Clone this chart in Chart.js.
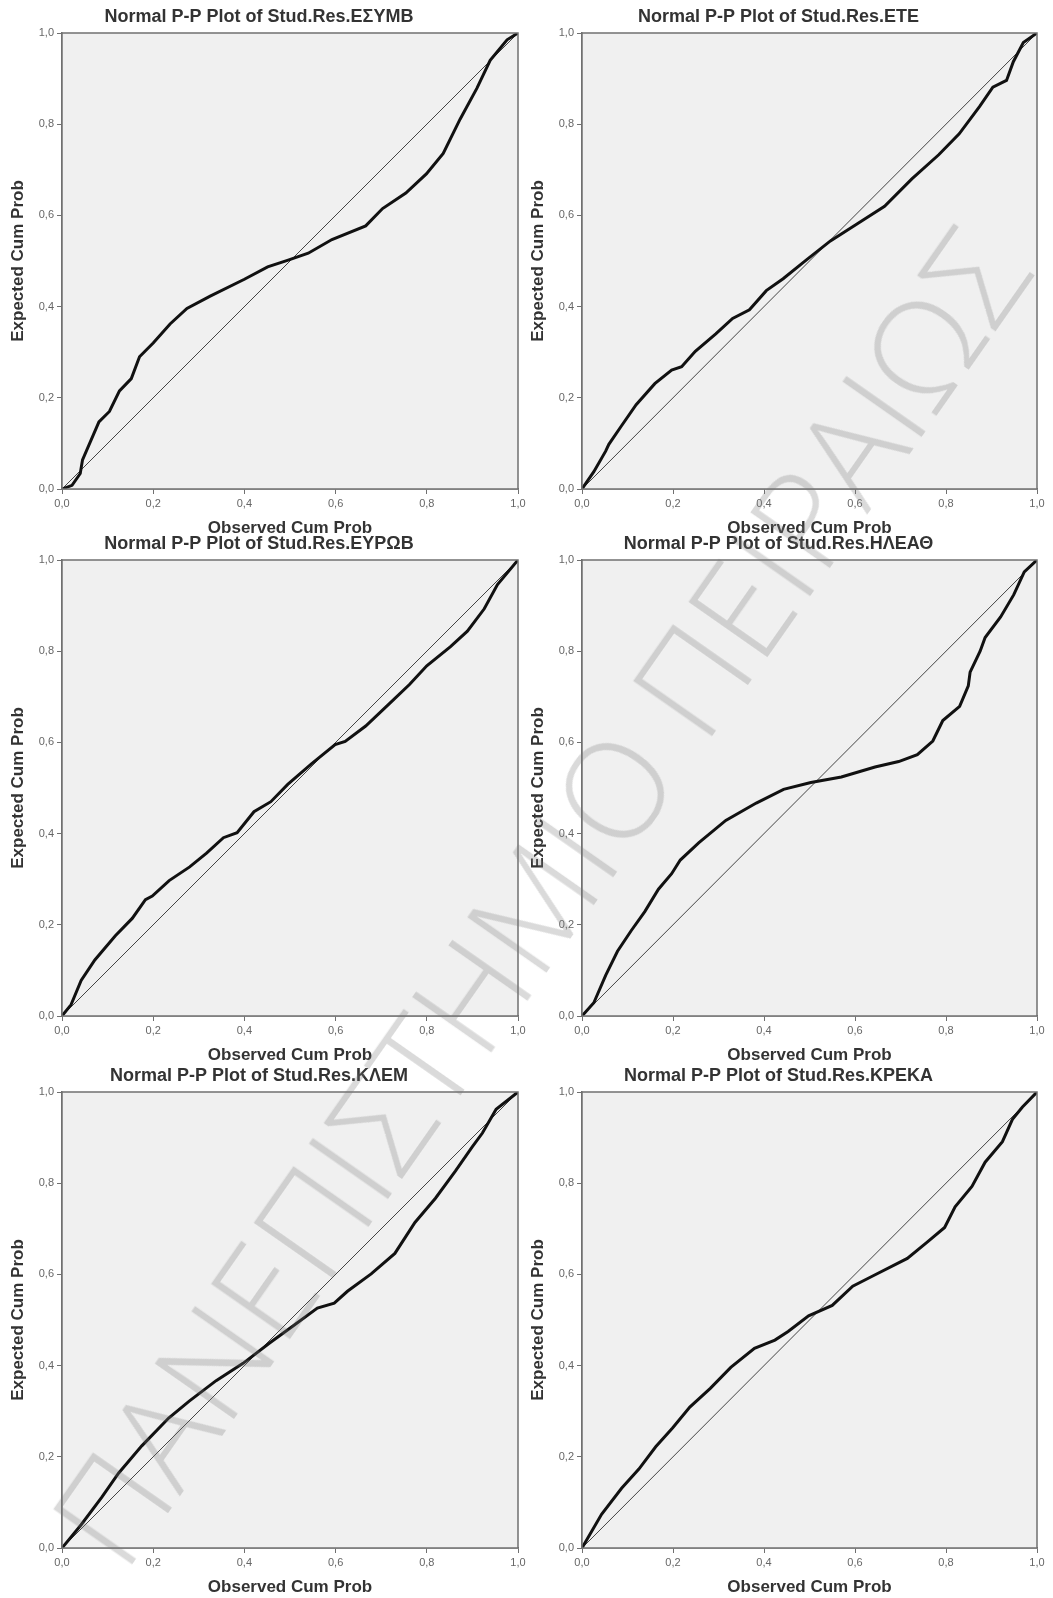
<!DOCTYPE html>
<html>
<head>
<meta charset="utf-8">
<script src="https://cdn.jsdelivr.net/npm/chart.js@4/dist/chart.umd.min.js"></script>
<style>
  html, body { margin: 0; padding: 0; background: #fff; }
  #page { position: relative; width: 1053px; height: 1598px; overflow: hidden; }
  .panel { position: absolute; }
  .panel canvas { display: block; }
  #watermark {
    position: absolute; left: 538px; top: 895px;
    transform: translate(-50%, -50%) rotate(-55deg);
    font-family: 'Open Sans', 'Liberation Sans', sans-serif;
    font-weight: 300;
    font-size: 120px; line-height: 1; white-space: nowrap;
    color: rgba(120,120,120,0.27);
    pointer-events: none;
  }
</style>
</head>
<body>
<div id="page">
  <div class="panel" style="left:0;top:0"><canvas id="p0" width="530" height="540"></canvas></div>
  <div class="panel" style="left:520px;top:0"><canvas id="p1" width="533" height="540"></canvas></div>
  <div class="panel" style="left:0;top:527px"><canvas id="p2" width="530" height="540"></canvas></div>
  <div class="panel" style="left:520px;top:527px"><canvas id="p3" width="533" height="540"></canvas></div>
  <div class="panel" style="left:0;top:1059px"><canvas id="p4" width="530" height="540"></canvas></div>
  <div class="panel" style="left:520px;top:1059px"><canvas id="p5" width="533" height="540"></canvas></div>
  <div id="watermark">ΠΑΝΕΠΙΣΤΗΜΙΟ ΠΕΙΡΑΙΩΣ</div>
</div>
<script>
// Normal P-P plots of studentized residuals (SPSS style)

const TITLES = [
  'Normal P-P Plot of Stud.Res.ΕΣΥΜΒ',
  'Normal P-P Plot of Stud.Res.ΕΤΕ',
  'Normal P-P Plot of Stud.Res.ΕΥΡΩΒ',
  'Normal P-P Plot of Stud.Res.ΗΛΕΑΘ',
  'Normal P-P Plot of Stud.Res.ΚΛΕΜ',
  'Normal P-P Plot of Stud.Res.ΚΡΕΚΑ',
];
const X_TITLE = 'Observed Cum Prob';
const Y_TITLE = 'Expected Cum Prob';
const TICK_LABELS = ['0,0', '0,2', '0,4', '0,6', '0,8', '1,0'];

// reference diagonal
const REF_X = [0, 1];
const REF_Y = [0, 1];

// observed (x) / expected (y) cumulative probabilities
const esymbX = [0, 0.022, 0.04, 0.045, 0.081, 0.104, 0.126, 0.152, 0.17, 0.2, 0.237, 0.274, 0.325, 0.4, 0.451, 0.496, 0.54, 0.592, 0.666, 0.703, 0.754, 0.799, 0.836, 0.873, 0.91, 0.939, 0.976, 1];
const esymbY = [0, 0.008, 0.034, 0.064, 0.147, 0.17, 0.215, 0.242, 0.29, 0.32, 0.362, 0.396, 0.423, 0.46, 0.487, 0.502, 0.517, 0.547, 0.577, 0.615, 0.649, 0.691, 0.736, 0.811, 0.879, 0.94, 0.985, 1];

const eteX = [0, 0.026, 0.052, 0.059, 0.085, 0.119, 0.16, 0.197, 0.219, 0.249, 0.294, 0.331, 0.368, 0.405, 0.442, 0.494, 0.546, 0.606, 0.665, 0.725, 0.784, 0.829, 0.874, 0.903, 0.933, 0.948, 0.97, 1];
const eteY = [0, 0.038, 0.083, 0.098, 0.136, 0.185, 0.231, 0.261, 0.268, 0.302, 0.34, 0.374, 0.393, 0.435, 0.461, 0.503, 0.544, 0.582, 0.62, 0.68, 0.733, 0.779, 0.839, 0.881, 0.896, 0.937, 0.979, 1];

const eyrobX = [0, 0.02, 0.042, 0.072, 0.117, 0.154, 0.183, 0.198, 0.235, 0.28, 0.317, 0.354, 0.384, 0.421, 0.458, 0.495, 0.547, 0.599, 0.621, 0.666, 0.718, 0.762, 0.8, 0.852, 0.889, 0.926, 0.955, 1];
const eyrobY = [0, 0.025, 0.078, 0.123, 0.176, 0.214, 0.255, 0.263, 0.297, 0.327, 0.357, 0.391, 0.402, 0.448, 0.47, 0.508, 0.553, 0.595, 0.602, 0.636, 0.685, 0.727, 0.768, 0.81, 0.844, 0.893, 0.946, 1];

const hleathX = [0, 0.026, 0.052, 0.078, 0.108, 0.138, 0.168, 0.197, 0.216, 0.257, 0.316, 0.383, 0.443, 0.503, 0.57, 0.644, 0.696, 0.737, 0.771, 0.793, 0.83, 0.849, 0.853, 0.875, 0.886, 0.92, 0.949, 0.972, 1];
const hleathY = [0, 0.029, 0.089, 0.142, 0.187, 0.229, 0.278, 0.312, 0.342, 0.38, 0.429, 0.467, 0.497, 0.512, 0.524, 0.546, 0.558, 0.573, 0.603, 0.648, 0.679, 0.724, 0.754, 0.8, 0.83, 0.875, 0.924, 0.974, 1];

const klemX = [0, 0.042, 0.087, 0.124, 0.175, 0.234, 0.279, 0.338, 0.397, 0.456, 0.508, 0.56, 0.597, 0.626, 0.678, 0.73, 0.774, 0.819, 0.863, 0.9, 0.922, 0.952, 1];
const klemY = [0, 0.051, 0.111, 0.164, 0.224, 0.285, 0.322, 0.367, 0.405, 0.45, 0.488, 0.526, 0.537, 0.563, 0.601, 0.646, 0.714, 0.767, 0.827, 0.88, 0.91, 0.962, 1];

const krekaX = [0, 0.043, 0.087, 0.125, 0.162, 0.199, 0.237, 0.282, 0.327, 0.379, 0.424, 0.453, 0.498, 0.55, 0.595, 0.64, 0.715, 0.76, 0.797, 0.82, 0.857, 0.886, 0.924, 0.946, 0.968, 1];
const krekaY = [0, 0.074, 0.131, 0.173, 0.222, 0.263, 0.309, 0.35, 0.396, 0.438, 0.456, 0.475, 0.509, 0.532, 0.574, 0.597, 0.635, 0.672, 0.703, 0.748, 0.793, 0.846, 0.891, 0.94, 0.967, 1];

const SERIES = [
  [esymbX, esymbY],
  [eteX, eteY],
  [eyrobX, eyrobY],
  [hleathX, hleathY],
  [klemX, klemY],
  [krekaX, krekaY],
];

const toPoints = (xs, ys) => xs.map((x, i) => ({ x, y: ys[i] }));

const FONT = "'Liberation Sans', Arial, sans-serif";
const FRAME = '#707070';

// grey plot background + closed frame like SPSS
const plotFrame = {
  id: 'plotFrame',
  beforeDatasetsDraw(chart) {
    const { ctx, chartArea: a } = chart;
    ctx.save();
    ctx.fillStyle = '#f0f0f0';
    ctx.fillRect(a.left, a.top, a.right - a.left, a.bottom - a.top);
    ctx.restore();
  },
  afterDatasetsDraw(chart) {
    const { ctx, chartArea: a } = chart;
    ctx.save();
    ctx.strokeStyle = FRAME;
    ctx.lineWidth = 1.5;
    ctx.strokeRect(a.left, a.top, a.right - a.left, a.bottom - a.top);
    ctx.restore();
  },
};

function tickLabel(v) {
  return TICK_LABELS[Math.round(v * 5)] ?? '';
}

function axis(titleText, isX) {
  return {
    type: 'linear',
    min: 0,
    max: 1,
    afterFit: (s) => {
      if (isX) { s.height = 51; s.paddingRight = 0; s.paddingLeft = 0; }
      else { s.width = 62; s.paddingTop = 0; s.paddingBottom = 0; }
    },
    ticks: {
      stepSize: 0.2,
      color: '#666',
      font: { family: FONT, size: 11 },
      padding: 3,
      callback: tickLabel,
    },
    grid: { drawOnChartArea: false, drawTicks: true, tickLength: 5, color: FRAME },
    border: { display: true, color: FRAME, width: 1.5 },
    title: {
      display: true,
      text: titleText,
      color: '#333',
      font: { family: FONT, size: 17, weight: 'bold' },
      padding: isX ? { top: 0, bottom: 1 } : { top: 8, bottom: 0 },
    },
  };
}

SERIES.forEach(([xs, ys], i) => {
  const right = i % 2 === 1;
  new Chart(document.getElementById('p' + i), {
    type: 'scatter',
    data: {
      datasets: [
        {
          data: toPoints(xs, ys),
          showLine: true,
          borderColor: '#111',
          borderWidth: 3,
          pointRadius: 0,
          tension: 0,
        },
        {
          data: toPoints(REF_X, REF_Y),
          showLine: true,
          borderColor: '#444',
          borderWidth: 1,
          pointRadius: 0,
        },
      ],
    },
    options: {
      responsive: false,
      animation: false,
      layout: { padding: { left: 0, right: right ? 16 : 12, top: 0, bottom: 0 } },
      plugins: {
        legend: { display: false },
        tooltip: { enabled: false },
        title: {
          display: true,
          text: TITLES[i],
          color: '#333',
          font: { family: FONT, size: 18, weight: 'bold' },
          padding: { top: 6, bottom: 5.4 },
        },
      },
      scales: {
        x: axis(X_TITLE, true),
        y: axis(Y_TITLE, false),
      },
    },
    plugins: [plotFrame],
  });
});

// stretch the diagonal watermark to its length in the picture
const wm = document.getElementById('watermark');
wm.style.fontSize = (120 * 1590 / wm.offsetWidth) + 'px';
</script>
</body>
</html>
